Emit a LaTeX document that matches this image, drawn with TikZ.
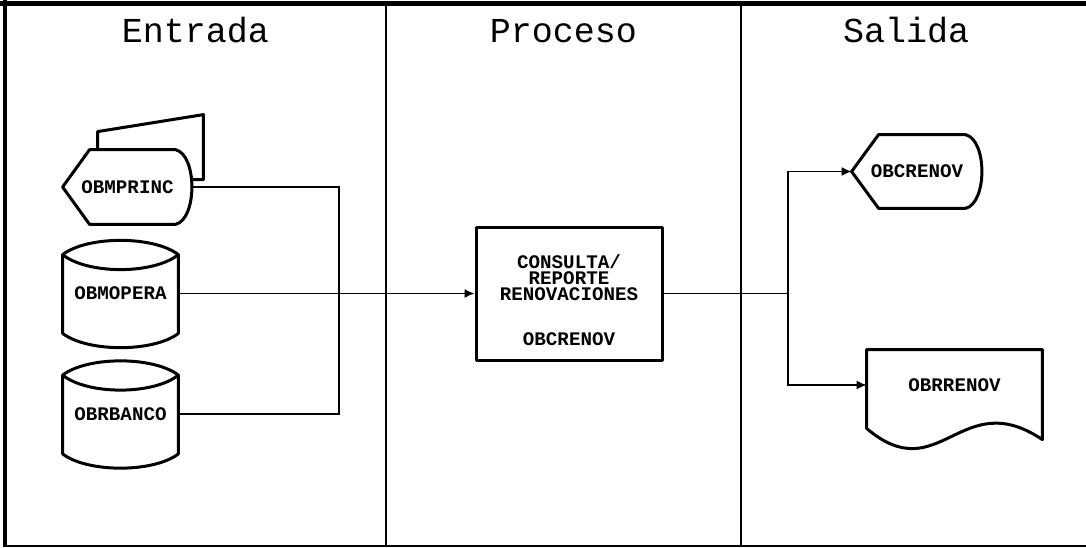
\documentclass[tikz,border=0pt]{standalone}
\usepackage{fontspec}
\setmonofont{Liberation Mono}
\usetikzlibrary{arrows.meta,calc}
\tikzstyle{outline} = [draw, line width=1.5pt, line join=round]
\tikzstyle{lbl} = [font=\ttfamily\bfseries\fontsize{9.6}{8}\selectfont,
    inner sep=0pt, text centered]
\tikzstyle{hdr} = [font=\ttfamily\fontsize{17.5}{20}\selectfont, anchor=base]
\tikzstyle{proc} = [lbl, outline, align=center, minimum width=93pt, minimum height=66.5pt]
\tikzstyle{display} = [lbl, minimum width=64.5pt, minimum height=37pt,
    append after command={\pgfextra{\draw[outline] (\tikzlastnode.west)
      -- ($(\tikzlastnode.north west)+(27,0)$) -- ($(\tikzlastnode.north east)+(-17,0)$)
      .. controls +(22,5) and +(22,-5) .. ($(\tikzlastnode.south east)+(-17,0)$)
      -- ($(\tikzlastnode.south west)+(27,0)$) -- cycle;}}]
\tikzstyle{store} = [lbl, minimum width=57.5pt, minimum height=53.5pt,
    append after command={\pgfextra{\draw[outline] ($(\tikzlastnode.north west)+(0,15)$)
      .. controls +(25,-19) and +(-25,-19) .. ($(\tikzlastnode.north east)+(0,15)$)
      -- ($(\tikzlastnode.south east)+(0,-14)$)
      .. controls +(-25,19) and +(25,19) .. ($(\tikzlastnode.south west)+(0,-14)$) -- cycle;
      \draw[outline] ($(\tikzlastnode.north west)+(0,15)$)
      .. controls +(25,20) and +(-25,20) .. ($(\tikzlastnode.north east)+(0,15)$);}}]
\tikzstyle{doc} = [lbl, minimum width=87.5pt, minimum height=35pt,
    append after command={\pgfextra{\draw[outline] (\tikzlastnode.north west)
      -- (\tikzlastnode.north east) -- ($(\tikzlastnode.north east)+(0,90)$)
      .. controls +(-82,-55) and +(73,62) .. ($(\tikzlastnode.south west)+(0,8)$) -- cycle;}}]
\tikzstyle{wire} = [draw, line width=0.75pt]
\tikzstyle{flow} = [draw, line width=0.75pt, -{Latex[length=5pt,width=4.5pt]}]

\begin{document}
\lineskiplimit=-100pt
\begin{tikzpicture}[x=0.5pt, y=-0.5pt]
    \useasboundingbox (0,0) rectangle (1086,547);
    % Frame and columns
    \draw [line width=2.5pt] (0,3.5) -- (1086,3.5);
    \draw [line width=2pt] (5,0) -- (5,547);
    \draw [line width=1pt] (5,545.5) -- (1086,545.5);
    \draw [line width=0.7pt] (386,3) -- (386,545) (741,3) -- (741,545);
    \node [hdr] (entrada) at (195.5,42) {Entrada};
    \node [hdr] (proceso) at (563.5,42) {Proceso};
    \node [hdr] (salida) at (906,42) {Salida};
    % Place nodes
    \node [store] (opera) at (120.5,293.5) {OBMOPERA};
    \node [store, below of=opera, node distance=60.25pt] (banco) {OBRBANCO};
    \node [display, above of=opera, node distance=53.25pt, xshift=3.5pt] (princ) {OBMPRINC};
    \node [proc] (proc) at (569,293.5)
        {\rule{0pt}{14pt}CONSULTA/\\REPORTE\\RENOVACIONES\\[14.5pt]OBCRENOV};
    \node [display, minimum width=65pt, minimum height=36.5pt] (crenov) at (917,171.5) {OBCRENOV};
    \node [doc, below of=crenov, node distance=106.75pt, xshift=18.75pt] (rrenov) {OBRRENOV};
    % card behind OBMPRINC
    \draw [outline] ($(princ.north west)+(35,0)$) -- +(0,-18)
        -- ($(princ.north east)+(11,-35)$) -- ($(princ.north east)+(11,30)$)
        -- ($(princ.north east)+(-1,30)$);
    % Draw edges
    \coordinate (join) at (339,293.5);
    \coordinate (split) at (788,293.5);
    \path [wire] (princ.east) -| (join);
    \path [wire] (banco.east) -| (join);
    \path [flow] (opera.east) -- (proc.west);
    \path [wire] (proc.east) -- (split);
    \path [flow] (split) |- (crenov.west);
    \path [flow] (split) |- (rrenov.west);
\end{tikzpicture}
\end{document}
